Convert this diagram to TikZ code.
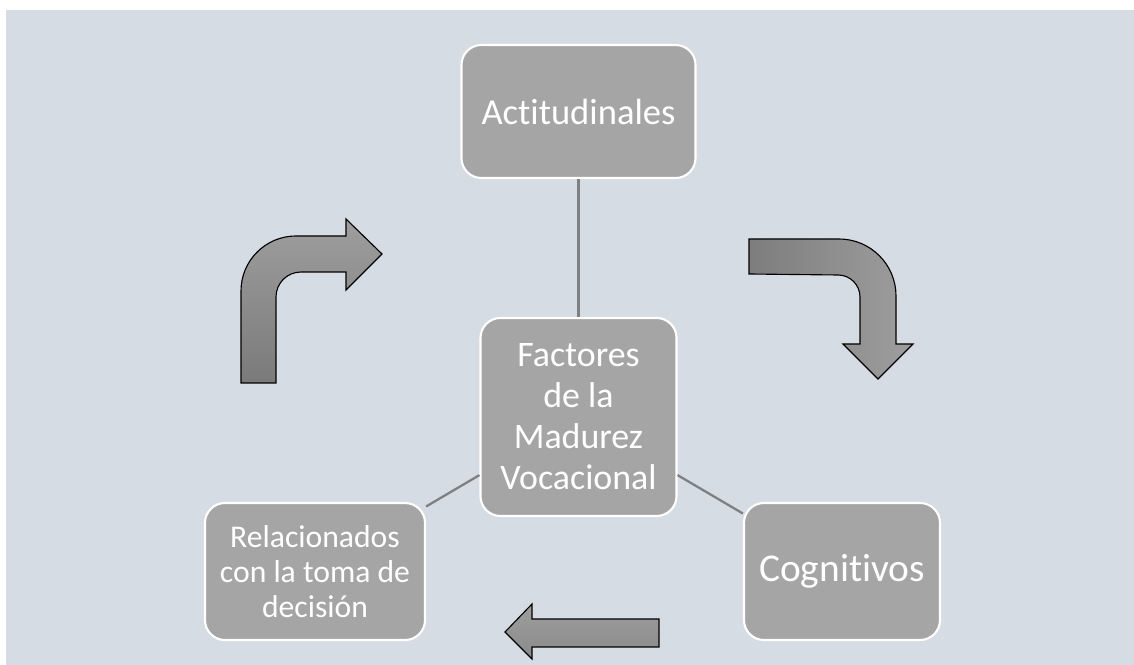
\documentclass[tikz,border=0pt]{standalone}
\usepackage{fontspec}
\setmainfont{Carlito}[Ligatures=NoCommon]
\definecolor{fondo}{HTML}{D6DCE4}
\definecolor{caja}{HTML}{A5A5A5}
\definecolor{linea}{HTML}{7F7F7F}
\tikzset{caja/.style={draw=white,line width=1.5pt,fill=caja,rounded corners=0.5cm,text=white,align=center,inner sep=2pt},
conector/.style={draw=linea,line width=1.6pt},
flecha/.style={draw=black,line width=0.8pt}}
\begin{document}
\begin{tikzpicture}[x=0.025cm,y=0.025cm]
\useasboundingbox (0,0) rectangle (1134,665);
\fill[fondo] (6,0) rectangle (1134,655);
\node[caja,minimum width=5.85cm,minimum height=3.325cm,font=\fontsize{26}{29}\selectfont] (act) at (578.5,553.5) {Actitudinales};
\node[caja,minimum width=4.9cm,minimum height=4.95cm,font=\fontsize{25.5}{29.2}\selectfont] (fac) at (578.5,248) {Factores\\de la\\Madurez\\Vocacional};
\node[caja,minimum width=5.5cm,minimum height=3.425cm,font=\fontsize{22.5}{25}\selectfont] (rel) at (315,93.5) {Relacionados\\con la toma de\\decisión};
\node[caja,minimum width=4.9cm,minimum height=3.425cm,font=\fontsize{28}{32}\selectfont] (cog) at (842,93.5) {Cognitivos};
\foreach \n in {act,rel,cog}
\draw[conector] (fac)--(\n);
% flechas del ciclo
\draw[flecha,top color=black!38,bottom color=black!52] (241,282)--(241,374) arc[start angle=180,end angle=90,radius=1.375cm]
--(346,429)--(346,446)--(382,411)--(346,375)--(346,393)--(301,393) arc[start angle=90,end angle=180,radius=0.625cm]--(276,282)--cycle;
\draw[flecha,left color=black!51,right color=black!38] (749,426)--(839,426) arc[start angle=90,end angle=0,radius=1.425cm]
--(896,321)--(913,321)--(878,286)--(843,321)--(860,321)--(860,368) arc[start angle=0,end angle=90,radius=0.55cm]--(749,391)--cycle;
\draw[flecha,top color=black!38,bottom color=black!46] (659,46)--(532,46)--(532,61)--(505,33)--(532,6)--(532,18)--(659,18)--cycle;
\end{tikzpicture}
\end{document}
